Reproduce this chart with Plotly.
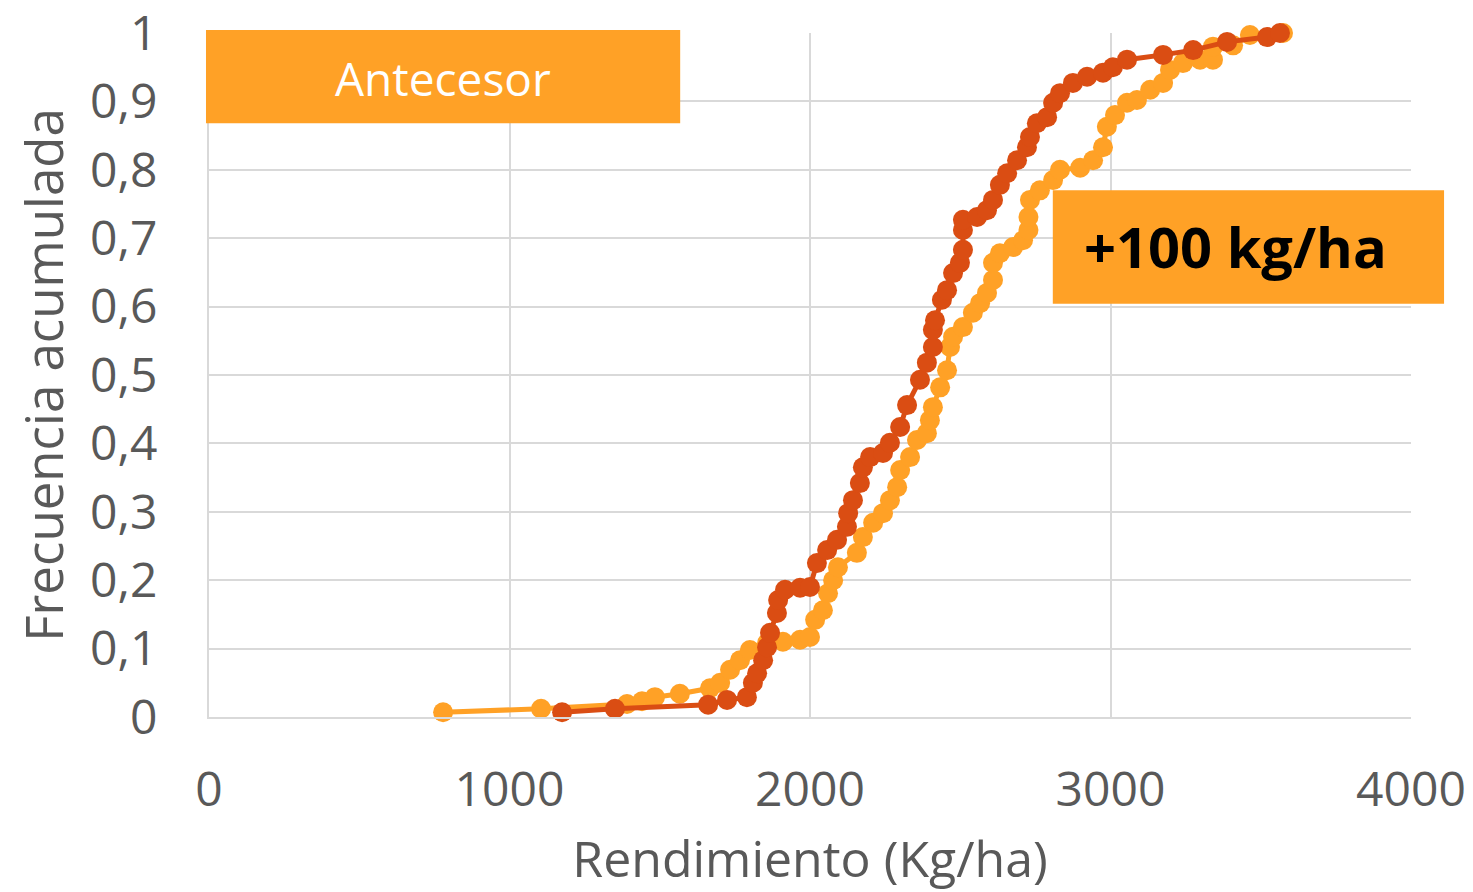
import plotly.graph_objects as go

# Cumulative frequency of yield
orange_x = [779, 1105, 1391, 1441, 1484, 1567, 1667, 1701, 1734, 1767, 1800, 1857,
            1910, 1967, 2000, 2017, 2043, 2060, 2077, 2093, 2156, 2176, 2210, 2243,
            2266, 2290, 2300, 2333, 2356, 2389, 2399, 2409, 2433, 2456, 2466, 2476,
            2509, 2542, 2566, 2589, 2609, 2609, 2632, 2676, 2709, 2727, 2727, 2732,
            2765, 2809, 2832, 2899, 2942, 2975, 2988, 3015, 3055, 3088, 3132, 3175,
            3198, 3241, 3298, 3341, 3341, 3408, 3464, 3574]
orange_y = [0.007, 0.012, 0.019, 0.023, 0.029, 0.034, 0.042, 0.050, 0.069, 0.083, 0.098, 0.108,
            0.110, 0.113, 0.117, 0.142, 0.156, 0.181, 0.200, 0.219, 0.240, 0.263, 0.284, 0.298,
            0.317, 0.336, 0.361, 0.380, 0.405, 0.415, 0.434, 0.453, 0.482, 0.507, 0.541, 0.556,
            0.570, 0.591, 0.605, 0.620, 0.639, 0.664, 0.678, 0.687, 0.697, 0.712, 0.731, 0.756,
            0.770, 0.785, 0.800, 0.803, 0.814, 0.833, 0.863, 0.880, 0.898, 0.902, 0.917, 0.927,
            0.946, 0.956, 0.961, 0.961, 0.980, 0.982, 0.997, 1.0]

red_x = [1175, 1351, 1661, 1724, 1790, 1810, 1824, 1844, 1857, 1867, 1890, 1894,
         1917, 1967, 2000, 2023, 2057, 2090, 2123, 2127, 2143, 2166, 2176, 2200,
         2243, 2266, 2300, 2323, 2366, 2389, 2409, 2409, 2416, 2439, 2456, 2476,
         2499, 2509, 2509, 2509, 2556, 2589, 2609, 2632, 2656, 2689, 2722, 2732,
         2755, 2789, 2809, 2832, 2875, 2922, 2975, 3008, 3055, 3175, 3275, 3388,
         3521, 3564]
red_y = [0.007, 0.012, 0.018, 0.025, 0.029, 0.050, 0.064, 0.083, 0.102, 0.123, 0.152, 0.171,
         0.186, 0.189, 0.190, 0.225, 0.244, 0.259, 0.278, 0.298, 0.317, 0.342, 0.365, 0.380,
         0.386, 0.401, 0.424, 0.456, 0.493, 0.518, 0.541, 0.566, 0.580, 0.610, 0.624, 0.649,
         0.664, 0.683, 0.712, 0.727, 0.731, 0.741, 0.756, 0.778, 0.795, 0.814, 0.833, 0.848,
         0.868, 0.877, 0.898, 0.912, 0.927, 0.936, 0.942, 0.950, 0.961, 0.968, 0.975, 0.987,
         0.994, 1.0]

ORANGE = "#FFA126"
RED = "#DA4D13"
GREY = "#595959"
GRID = "#D9D9D9"

fig = go.Figure()
fig.add_trace(go.Scatter(
    x=orange_x, y=orange_y, mode="lines+markers",
    line=dict(color=ORANGE, width=5),
    marker=dict(color=ORANGE, size=20),
    cliponaxis=False, showlegend=False
))
fig.add_trace(go.Scatter(
    x=red_x, y=red_y, mode="lines+markers",
    line=dict(color=RED, width=5),
    marker=dict(color=RED, size=20),
    cliponaxis=False, showlegend=False
))

# label boxes
fig.add_shape(type="rect", xref="paper", yref="paper",
              x0=-0.0025, x1=0.392, y0=0.868, y1=1.0044,
              fillcolor=ORANGE, line_width=0, layer="above")
fig.add_shape(type="rect", xref="paper", yref="paper",
              x0=0.702, x1=1.0275, y0=0.604, y1=0.770,
              fillcolor=ORANGE, line_width=0, layer="above")
fig.add_annotation(text="Antecesor", xref="paper", yref="paper",
                   x=0.195, y=0.934, xanchor="center", yanchor="middle",
                   showarrow=False,
                   font=dict(family="Open Sans", size=46, color="white"))
fig.add_annotation(text="<b>+100 kg/ha</b>", xref="paper", yref="paper",
                   x=0.854, y=0.689, xanchor="center", yanchor="middle",
                   showarrow=False,
                   font=dict(family="Open Sans", size=56, color="black"))

fig.update_xaxes(
    range=[0, 4000], dtick=1000,
    showgrid=True, gridcolor=GRID, gridwidth=2,
    zeroline=False, showline=True, linecolor=GRID, linewidth=2,
    ticks="", ticklabelstandoff=29, ticklabeloverflow="allow",
    tickfont=dict(size=48, color=GREY),
    title=dict(text="Rendimiento (Kg/ha)", standoff=26,
               font=dict(size=50, color=GREY))
)
fig.update_yaxes(
    range=[0, 1], dtick=0.1,
    showgrid=True, gridcolor=GRID, gridwidth=2,
    zeroline=False, showline=True, linecolor=GRID, linewidth=2,
    ticks="", ticklabelstandoff=40, ticklabeloverflow="allow",
    tickfont=dict(size=48, color=GREY),
    title=dict(text="Frecuencia acumulada", standoff=14,
               font=dict(size=51, color=GREY))
)

# page body adds an 8px margin, so the figure is 8px smaller each way
fig.update_layout(
    width=1465, height=884,
    margin=dict(l=201, r=62, t=25, b=175, autoexpand=False),
    plot_bgcolor="white", paper_bgcolor="white",
    separators=", ",
    font=dict(family="Open Sans", color=GREY)
)

fig.write_html("out.html")
